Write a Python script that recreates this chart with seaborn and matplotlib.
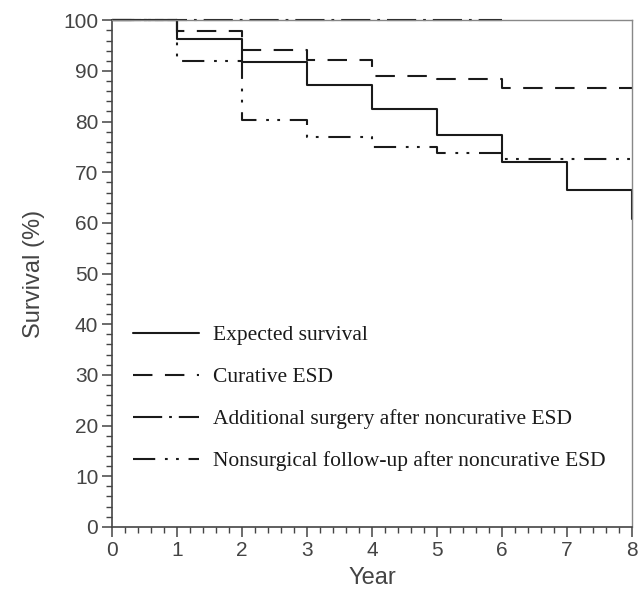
import numpy as np
import pandas as pd
import matplotlib.pyplot as plt
import seaborn as sns

# 数据
years_expected = [0, 1, 2, 3, 4, 5, 6, 7, 8, 8]
surv_expected = [100, 96.4, 91.8, 87.2, 82.4, 77.3, 72.0, 66.5, 66.5, 60.8]

years_curative = [0, 1, 2, 3, 4, 5, 6, 8]
surv_curative = [100, 97.8, 94.1, 92.1, 89.0, 88.4, 86.7, 86.7]

years_surgery = [0, 6]
surv_surgery = [100, 100]

years_nonsurg = [0, 1, 2, 3, 4, 5, 6, 8]
surv_nonsurg = [100, 92.0, 80.3, 77.0, 75.0, 73.8, 72.7, 72.7]

labels = ['Expected survival', 'Curative ESD',
          'Additional surgery after noncurative ESD',
          'Nonsurgical follow-up after noncurative ESD']

sns.set_style('ticks')
plt.rcParams['font.family'] = ['Liberation Sans', 'DejaVu Sans']
plt.rcParams['lines.scale_dashes'] = False

line_color = '#1a1a1a'
styles = [
    '-',
    (0, (14, 9)),
    (0, (21, 5, 2, 5)),
    (0, (16, 7, 2, 6, 2, 7)),
]


def plot_survival_chart(series):
    """
    绘制生存曲线（阶梯图）
    """
    fig = plt.figure(figsize=(6.41, 5.96), dpi=100)
    ax = fig.add_axes([0.175, 0.116, 0.811, 0.850])
    for (xs, ys), lab, ls in zip(series, labels, styles):
        df = pd.DataFrame({'year': xs, 'survival': ys})
        sns.lineplot(data=df, x='year', y='survival', ax=ax, estimator=None,
                     sort=False, drawstyle='steps-post', color=line_color,
                     linewidth=1.5, linestyle=ls, label=lab, clip_on=False)

    ax.set_xlim(0, 8)
    ax.set_ylim(0, 100)
    ax.set_xticks(np.arange(0, 9, 1))
    ax.set_xticks(np.arange(0, 8.01, 0.2), minor=True)
    ax.set_yticks(np.arange(0, 101, 10))
    ax.set_yticks(np.arange(0, 101, 2), minor=True)

    ax.tick_params(axis='both', which='major', length=7, width=1.1,
                   color='#444444', labelsize=15, labelcolor='#444444')
    ax.tick_params(axis='both', which='minor', length=4, width=1.0,
                   color='#444444')
    ax.tick_params(axis='x', which='major', pad=3)
    ax.tick_params(axis='y', which='major', pad=3)

    for side in ['left', 'bottom']:
        ax.spines[side].set_color('#444444')
        ax.spines[side].set_linewidth(1.2)
    for side in ['top', 'right']:
        ax.spines[side].set_visible(True)
        ax.spines[side].set_color('#888888')
        ax.spines[side].set_linewidth(1.0)

    ax.set_xlabel('Year', fontsize=17, color='#444444', labelpad=5)
    ax.set_ylabel('Survival (%)', fontsize=17, color='#444444', labelpad=13)

    leg = ax.legend(loc='upper left', bbox_to_anchor=(0.04, 0.398),
                    frameon=False, borderaxespad=0, borderpad=0,
                    handlelength=3.07, handletextpad=0.65, labelspacing=1.02,
                    prop={'family': 'Liberation Serif', 'size': 15.5})
    for t in leg.get_texts():
        t.set_color('#1a1a1a')

    fig.savefig('out.png', dpi=100)


plot_survival_chart([(years_expected, surv_expected),
                     (years_curative, surv_curative),
                     (years_surgery, surv_surgery),
                     (years_nonsurg, surv_nonsurg)])
